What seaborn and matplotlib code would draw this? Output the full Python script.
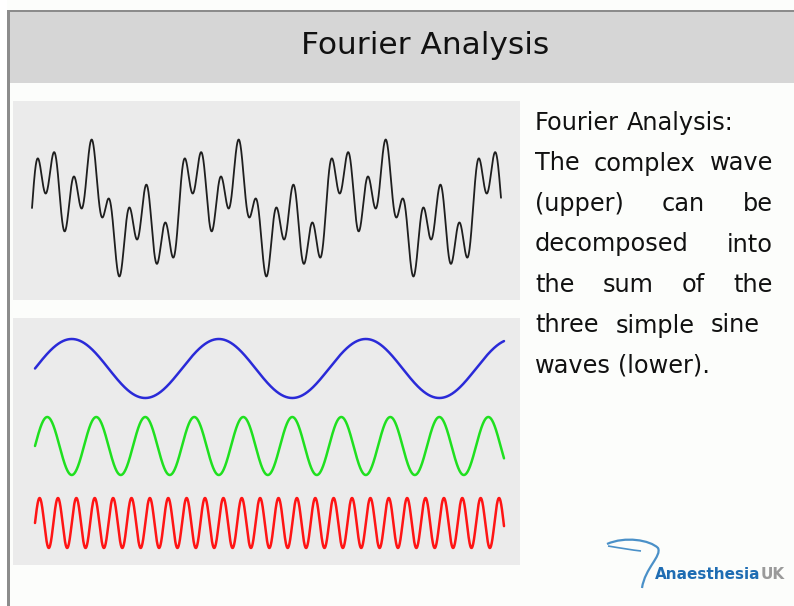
import numpy as np
import pandas as pd
import matplotlib
matplotlib.use("Agg")
import matplotlib.pyplot as plt
from matplotlib.patches import Rectangle, PathPatch
from matplotlib.path import Path
import seaborn as sns

# wave data
harmonics = [1, 3, 8]                  # relative frequency of each simple wave
cycles_of_base = 3.19                  # cycles of the slowest wave across the panel
lower_amps = [29.5, 29.0, 25.0]        # amplitude of each simple wave (px)
upper_amps = [27.0, 27.0, 27.0]        # amplitude of each part in the complex wave (px)
wave_names = ["low", "mid", "high"]
wave_colors = ["#2a2ad8", "#1fe01f", "#ff1414"]

title = "Fourier Analysis"
body_lines = [
    ["Fourier", "Analysis:"],
    ["The", "complex", "wave"],
    ["(upper)", "can", "be"],
    ["decomposed", "into"],
    ["the", "sum", "of", "the"],
    ["three", "simple", "sine"],
    ["waves", "(lower)."],
]

W, H = 794, 606
sns.set_style("white")
plt.rcParams["font.family"] = ["DejaVu Sans"]

fig = plt.figure(figsize=(W / 100, H / 100), dpi=100)
fig.patch.set_facecolor("#fcfdfb")


def fx(x):
    return x / W


def fy(y):
    return 1 - y / H


# slide frame and title bar
fig.add_artist(Rectangle((fx(10), fy(83)), fx(W - 10), 71 / H, transform=fig.transFigure,
                         facecolor="#d6d6d6", edgecolor="none"))
fig.add_artist(Rectangle((fx(7), fy(12)), fx(W - 7), 2.5 / H, transform=fig.transFigure,
                         facecolor="#8c8c8c", edgecolor="none"))
fig.add_artist(Rectangle((fx(7), 0), fx(3), fy(10), transform=fig.transFigure,
                         facecolor="#8c8c8c", edgecolor="none"))
fig.add_artist(Rectangle((0, 0), fx(7), 1, transform=fig.transFigure,
                         facecolor="white", edgecolor="none"))
fig.text(fx(425), fy(45), title, ha="center", va="center", fontsize=22.5, color="#111111")

# sampled time axis for the waves
t = np.linspace(0, 1, 3000)
phase = 2 * np.pi * cycles_of_base * t

# upper panel: complex wave
x0, x1 = 32, 501
ax1 = fig.add_axes([fx(13), fy(300), fx(520 - 13), (300 - 101) / H])
ax1.set_facecolor("#ebebeb")
complex_wave = sum(a * np.sin(h * phase) for h, a in zip(harmonics, upper_amps))
sns.lineplot(x=t, y=complex_wave, ax=ax1, color="#1e1e1e", linewidth=1.3)
span = x1 - x0
ax1.set_xlim(-(x0 - 13) / span, (520 - x0) / span)
ax1.set_ylim(-(300 - 208), 208 - 101)

# lower panel: the three simple waves
centers = [368.5, 446, 523]
rows = []
for name, h, a, c in zip(wave_names, harmonics, lower_amps, centers):
    rows.append(pd.DataFrame({"t": t, "y": -c + a * np.sin(h * phase), "wave": name}))
df = pd.concat(rows, ignore_index=True)
ax2 = fig.add_axes([fx(13), fy(565), fx(520 - 13), (565 - 318) / H])
ax2.set_facecolor("#ebebeb")
sns.lineplot(data=df, x="t", y="y", hue="wave", palette=dict(zip(wave_names, wave_colors)),
             ax=ax2, linewidth=1.8, legend=False, sort=False, estimator=None)
ax2.set_xlim(-(35 - 13) / span, (520 - 35) / span)
ax2.set_ylim(-565, -318)

for ax in (ax1, ax2):
    ax.set_xticks([])
    ax.set_yticks([])
    ax.set_xlabel("")
    ax.set_ylabel("")
    for s in ax.spines.values():
        s.set_visible(False)

# justified body text
renderer = fig.canvas.get_renderer()
body_size = 17.3
probe = fig.text(0, 0, "a a", fontsize=body_size)
probe_a = fig.text(0, 0, "a", fontsize=body_size)
space = probe.get_window_extent(renderer).width - 2 * probe_a.get_window_extent(renderer).width
probe.remove()
probe_a.remove()

left = 535
rights = [None, 773, 773, 773, 773, 760, None]
for i, (words, right) in enumerate(zip(body_lines, rights)):
    base = 130 + 40.5 * i
    texts = [fig.text(0, fy(base), w, fontsize=body_size, color="#111111", va="baseline")
             for w in words]
    widths = [tx.get_window_extent(renderer).width for tx in texts]
    if right is None:
        gap = space
    else:
        gap = (right - left - sum(widths)) / (len(words) - 1)
    x = left
    for tx, wd in zip(texts, widths):
        tx.set_x(fx(x))
        x += wd + gap

# logo
verts = [(607, 544), (625, 536), (650, 540), (658, 548),
         (662, 556), (645, 568), (642, 588)]
codes = [Path.MOVETO, Path.CURVE4, Path.CURVE4, Path.CURVE4,
         Path.CURVE4, Path.CURVE4, Path.CURVE4]
swoosh = Path([(fx(x), fy(y)) for x, y in verts], codes)
fig.add_artist(PathPatch(swoosh, transform=fig.transFigure, facecolor="none",
                         edgecolor="#4a90c8", linewidth=1.6))
inner = Path([(fx(x), fy(y)) for x, y in [(608, 546), (620, 548), (632, 550), (641, 551)]],
             [Path.MOVETO, Path.CURVE4, Path.CURVE4, Path.CURVE4])
fig.add_artist(PathPatch(inner, transform=fig.transFigure, facecolor="none",
                         edgecolor="#4a90c8", linewidth=1.2))
logo = fig.text(fx(655), fy(579), "Anaesthesia", fontsize=11, fontweight="bold",
                color="#1f6db3", va="baseline")
lw = logo.get_window_extent(renderer).width
fig.text(fx(655 + lw), fy(579), "UK", fontsize=11, fontweight="bold",
         color="#9a9a9a", va="baseline")

fig.savefig("out.png", dpi=100, facecolor=fig.get_facecolor())
